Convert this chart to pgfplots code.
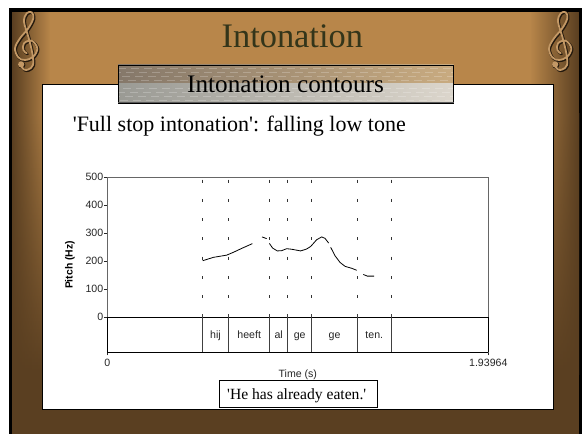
\documentclass[border=0pt]{standalone}
\usepackage{fontspec}
\usepackage{pgfplots}
\pgfplotsset{compat=1.18}
\usetikzlibrary{fadings}
\newfontfamily\serif{Liberation Serif}
\newfontfamily\arial{Liberation Sans}
\definecolor{tan}{HTML}{B8864A}
\definecolor{dk}{HTML}{5A3F21}
\definecolor{ttl}{HTML}{33351A}
\definecolor{HdrA}{HTML}{85786A}
\definecolor{HdrB}{HTML}{C9AB80}
\definecolor{HdrC}{HTML}{9A9A94}
\definecolor{HdrD}{HTML}{DCD6CC}
\newcommand{\fs}[1]{\fontsize{#1}{#1}\selectfont}
\tikzfading[name=fromleft,left color=transparent!0,right color=transparent!100]
\tikzfading[name=fromright,right color=transparent!0,left color=transparent!100]
\newcommand{\ClefPath}{plot[smooth,tension=.6] coordinates {(-4,-26)(-1,-29.5)(3.3,-29.5)(8,-25)(7.3,-13.3)(3.3,3.3)(-1,18.3)(1.7,26.7)(6.7,27.7)(8.3,21.7)(3.3,11.7)(-5,1.7)(-10,-8.3)(-6.7,-17.3)(0,-20)(8.3,-16.7)(12.3,-8.3)(6.7,-.7)(-1,-3.3)(-1.7,-10)(1.7,-13.3)}}
\newcommand{\Clef}[2]{%
 \begin{scope}[shift={(#1,#2)}]
  \draw[black!60!dk,line width=2.6pt,line cap=round,line join=round,shift={(.8,-.8)}] \ClefPath;
  \fill[black!60!dk] (-3.2,-25) circle (3.6);
  \draw[tan!85!white,line width=1.8pt,line cap=round,line join=round] \ClefPath;
  \fill[tan!85!white] (-3.8,-24.4) circle (3.1);
 \end{scope}}
\begin{document}
\begin{tikzpicture}[x=1pt,y=1pt]
\useasboundingbox (0,0) rectangle (583,434);
\fill[white] (0,0) rectangle (583,434);
% slide
\fill[black] (9,0) rectangle (582,425.5);
\fill[tan] (12,320) rectangle (579,422);
\shade[top color=tan,bottom color=dk] (12,320) rectangle (579,60);
\fill[dk] (12,0) rectangle (579,60);
\fill[dk,path fading=fromleft] (12,0) rectangle (50,422);
\fill[dk,path fading=fromright] (530,0) rectangle (579,422);
\Clef{25}{394}
\Clef{559}{394}
\node[font=\serif\fs{34.4},text=ttl,anchor=base] at (292.3,386) {Intonation};
% panel
\fill[white,draw=black,line width=1pt] (42.5,25) rectangle (553.5,349.5);
% subtitle band
\shade[left color=HdrA,right color=HdrB] (118,350) rectangle (453.7,369);
\shade[left color=HdrC,right color=HdrD] (118,331) rectangle (453.7,350);
\foreach \yy/\ph in {366/0,362/5,358/9,354/3,346/8,342/1,338/6,334/11}
  \draw[white,opacity=.22,line width=.7pt,dash pattern=on 8pt off 5pt,dash phase=\ph pt] (118,\yy) -- (453.7,\yy);
\draw[black,line width=.8pt] (118,331) rectangle (453.7,369);
\draw[black!65,line width=1pt] (118,331) -- (453.7,331);
\node[font=\serif\fs{25.2},anchor=base] at (285.5,341) {Intonation contours};
\node[font=\serif\fs{22},anchor=base west,inner sep=0] at (72.6,302.3) {'Full stop intonation': falling low tone};
% chart
\begin{axis}[
  at={(107.3pt,81.7pt)},anchor=south west,
  scale only axis,width=381pt,height=175.3pt,
  xmin=0,xmax=1.93964,ymin=-126,ymax=500,
  xtick={0,1.93964},xticklabels={0,1.93964},
  ytick={0,100,200,300,400,500},
  tick align=outside,xtick pos=bottom,ytick pos=left,
  major tick length=3pt,
  tick style={black!85,line width=.7pt},
  axis line style={black!60,line width=1pt},
  ticklabel style={font=\arial\fs{10.6},text=black!85},
  /pgf/number format/assume math mode=true,
  yticklabel style={xshift=2.5pt},
  xlabel={Time (s)},
  xlabel style={at={(axis description cs:0.5,0)},anchor=center,yshift=-22.4pt,font=\arial\fs{10.6},text=black!85},
  ylabel={\textbf{Pitch (Hz)}},
  ylabel style={at={(axis description cs:-0.098,0.498)},anchor=center,rotate=0,font=\arial\fs{10.4},text=black},
  clip=false,
]
% bottom frame and zero line
\addplot[black,line width=1pt] coordinates {(0,-126)(1.93964,-126)};
\addplot[black,line width=.9pt] coordinates {(0,0)(1.93964,0)};
\addplot[black,line width=.9pt] coordinates {(0,-126)(0,0)};
\addplot[black,line width=.9pt] coordinates {(1.93964,-126)(1.93964,0)};
% interval boundaries, dashed over pitch, solid in the tier
\foreach \t in {0.4821,0.6180,0.8268,0.9184,1.0406,1.2728,1.4458}{
  \edef\tmp{\noexpand\addplot[black!80,line width=.9pt,dash pattern=on 3pt off 16.3pt] coordinates {(\t,491)(\t,0)};
  \noexpand\addplot[black!75,line width=.9pt] coordinates {(\t,10)(\t,-126)};}
  \tmp
}
% pitch contour
\addplot[black,line width=.8pt] coordinates {(0.4855,201)(0.5398,213)(0.6077,221)(0.6416,231)(0.6841,245)(0.7384,262)};
\addplot[black,line width=.8pt] coordinates {(0.7876,286)(0.8113,280)};
\addplot[black,line width=.8pt] coordinates {(0.8249,263)(0.8419,246)(0.8656,236)(0.8877,237)(0.9132,244)(0.9386,242)(0.9844,236)(1.0150,243)(1.0354,252)(1.0659,276)(1.0914,286)(1.1083,281)(1.1270,264)};
\addplot[black,line width=.8pt] coordinates {(1.1372,249)(1.1592,219)(1.1847,195)(1.2101,181)(1.2441,174)(1.2695,167)};
\addplot[black,line width=.8pt] coordinates {(1.3035,152)(1.3238,146)(1.3578,146)};
% tier labels
\foreach \lab/\t in {hij/0.5505,heeft/0.7224,al/0.8726,ge/0.9795,ge/1.1567,ten./1.3593}{
  \edef\tmp{\noexpand\node[font=\noexpand\arial\noexpand\fs{10.6},text=black!85,anchor=base] at (axis cs:\t,-77.5) {\lab};}
  \tmp
}
\end{axis}
\fill[white,draw=black,line width=1pt] (219,27) rectangle (377,54);
\node[font=\serif\fs{15.6},anchor=base] at (296.7,35) {'He has already eaten.'};
\end{tikzpicture}
\end{document}
